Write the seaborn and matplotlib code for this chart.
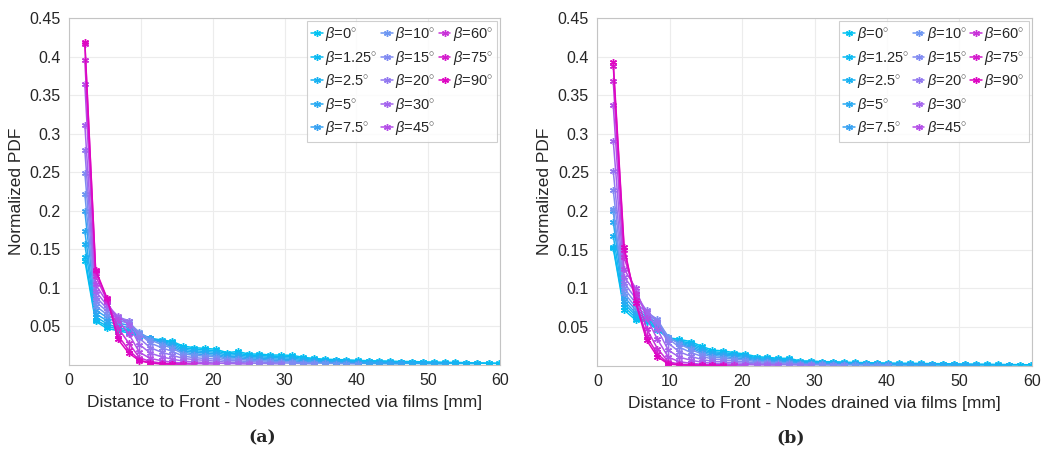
import numpy as np
import pandas as pd
import matplotlib
matplotlib.use("Agg")
import matplotlib.pyplot as plt
from matplotlib.lines import Line2D
import seaborn as sns

# ---------------------------------------------------------------- data
BETAS = ["0", "1.25", "2.5", "5", "7.5", "10", "15", "20", "30", "45", "60", "75", "90"]
COLORS = ["#00c2f2", "#0abaf2", "#18b2f2", "#28aaf2", "#38a2f2", "#6c96f2", "#808af2",
          "#9278f0", "#a464ee", "#b44ee8", "#c832d8", "#d41ccc", "#de06c2"]

# bin centres [mm]
DIST = [2.2, 3.7, 5.3, 6.8, 8.3, 9.8, 11.3, 12.9, 14.4, 15.9, 17.4, 18.9, 20.4,
        22.0, 23.5, 25.0, 26.5, 28.0, 29.5, 31.1, 32.6, 34.1, 35.6, 37.1, 38.6,
        40.2, 41.7, 43.2, 44.7, 46.2, 47.7, 49.3, 50.8, 52.3, 53.8, 55.3, 56.8,
        58.4, 59.9]

# (a) nodes connected via films
a_0 = [0.135, 0.056, 0.047, 0.044, 0.041, 0.036, 0.034, 0.032, 0.030, 0.024, 0.022, 0.021, 0.020,
       0.0155, 0.017, 0.0137, 0.0137, 0.0124, 0.0124, 0.012, 0.0094, 0.008, 0.007, 0.0065, 0.0062,
       0.0055, 0.005, 0.0048, 0.0045, 0.004, 0.004, 0.0035, 0.0033, 0.003, 0.0028, 0.0025, 0.0022,
       0.002, 0.0017]
a_1_25 = [0.140, 0.058, 0.050, 0.046, 0.043, 0.037, 0.034, 0.031, 0.029, 0.022, 0.020, 0.019, 0.018,
          0.014, 0.015, 0.012, 0.012, 0.011, 0.0105, 0.010, 0.008, 0.007, 0.006, 0.0055, 0.0052,
          0.0046, 0.0042, 0.004, 0.0037, 0.0033, 0.0032, 0.0028, 0.0026, 0.0024, 0.0022, 0.002,
          0.0018, 0.0016, 0.0014]
a_2_5 = [0.156, 0.062, 0.053, 0.048, 0.045, 0.038, 0.034, 0.030, 0.027, 0.020, 0.018, 0.017, 0.016,
         0.012, 0.013, 0.0105, 0.0102, 0.0093, 0.0088, 0.0083, 0.0066, 0.0058, 0.005, 0.0045, 0.0042,
         0.0037, 0.0034, 0.0031, 0.0029, 0.0026, 0.0024, 0.0021, 0.0019, 0.0017, 0.0015, 0.0013, 0.0011]
a_5 = [0.173, 0.066, 0.057, 0.051, 0.048, 0.039, 0.034, 0.029, 0.025, 0.018, 0.016, 0.015, 0.014,
       0.010, 0.011, 0.0088, 0.0085, 0.0075, 0.007, 0.0065, 0.0052, 0.0045, 0.0038, 0.0034, 0.0031,
       0.0027, 0.0024, 0.0021, 0.0019, 0.0016, 0.0014, 0.0012, 0.001, 0.0008]
a_7_5 = [0.199, 0.071, 0.061, 0.054, 0.051, 0.041, 0.034, 0.028, 0.023, 0.016, 0.014, 0.013, 0.012,
         0.0085, 0.009, 0.0072, 0.0068, 0.0058, 0.0053, 0.0048, 0.0038, 0.0032, 0.0027, 0.0023, 0.002,
         0.0017, 0.0014, 0.0012, 0.001, 0.0008]
a_10 = [0.221, 0.076, 0.065, 0.057, 0.054, 0.042, 0.032, 0.026, 0.021, 0.014, 0.012, 0.011, 0.010,
        0.007, 0.0072, 0.0056, 0.0052, 0.0043, 0.0038, 0.0033, 0.0026, 0.0021, 0.0017, 0.0014, 0.0011,
        0.0008]
a_15 = [0.249, 0.082, 0.069, 0.060, 0.056, 0.040, 0.028, 0.022, 0.017, 0.011, 0.009, 0.008, 0.0072,
        0.005, 0.005, 0.0038, 0.0034, 0.0027, 0.0022, 0.0018, 0.0013, 0.0009]
a_20 = [0.278, 0.088, 0.073, 0.062, 0.057, 0.034, 0.022, 0.016, 0.012, 0.008, 0.0065, 0.0055, 0.0045,
        0.003, 0.0028, 0.002, 0.0016, 0.0012, 0.0008]
a_30 = [0.311, 0.095, 0.077, 0.063, 0.052, 0.026, 0.015, 0.010, 0.007, 0.0045, 0.0035, 0.0028, 0.002,
        0.0014, 0.0011, 0.0007]
a_45 = [0.364, 0.104, 0.081, 0.058, 0.040, 0.016, 0.008, 0.005, 0.003, 0.002, 0.0014, 0.001, 0.0006]
a_60 = [0.395, 0.115, 0.083, 0.048, 0.028, 0.009, 0.004, 0.002, 0.0012, 0.0008, 0.0005]
a_75 = [0.416, 0.121, 0.085, 0.038, 0.019, 0.006, 0.002, 0.001, 0.0006, 0.0004]
a_90 = [0.419, 0.123, 0.086, 0.033, 0.015, 0.005, 0.002, 0.001, 0.0005]

# (b) nodes drained via films
b_0 = [0.152, 0.072, 0.059, 0.057, 0.046, 0.036, 0.034, 0.031, 0.025, 0.020, 0.019, 0.0167, 0.015,
       0.0115, 0.0107, 0.0094, 0.0094, 0.006, 0.006, 0.005, 0.005, 0.0045, 0.004, 0.0038, 0.0035,
       0.0033, 0.003, 0.003, 0.0028, 0.0025, 0.0025, 0.0022, 0.002, 0.0018, 0.0017, 0.0015, 0.0013,
       0.0012, 0.001]
b_1_25 = [0.154, 0.076, 0.062, 0.058, 0.048, 0.035, 0.032, 0.029, 0.023, 0.018, 0.017, 0.015, 0.0135,
          0.010, 0.0095, 0.0082, 0.008, 0.0052, 0.005, 0.0042, 0.0041, 0.0037, 0.0033, 0.0031, 0.0028,
          0.0026, 0.0024, 0.0023, 0.0021, 0.0019, 0.0018, 0.0016, 0.0014, 0.0013, 0.0012, 0.001,
          0.0009, 0.0008, 0.0007]
b_2_5 = [0.168, 0.080, 0.065, 0.060, 0.050, 0.035, 0.031, 0.027, 0.021, 0.0165, 0.0155, 0.0135, 0.012,
         0.0088, 0.0082, 0.007, 0.0067, 0.0044, 0.0042, 0.0035, 0.0034, 0.003, 0.0027, 0.0025, 0.0022,
         0.002, 0.0018, 0.0017, 0.0015, 0.0013, 0.0012, 0.001, 0.0009, 0.0008, 0.0007, 0.0006, 0.0005]
b_5 = [0.186, 0.084, 0.068, 0.062, 0.052, 0.036, 0.030, 0.025, 0.019, 0.015, 0.0138, 0.012, 0.0105,
       0.0076, 0.007, 0.0058, 0.0055, 0.0036, 0.0034, 0.0028, 0.0026, 0.0023, 0.002, 0.0018, 0.0016,
       0.0014, 0.0012, 0.0011, 0.001, 0.0008, 0.0007, 0.0006, 0.0005, 0.0004]
b_7_5 = [0.200, 0.089, 0.072, 0.064, 0.055, 0.037, 0.029, 0.023, 0.017, 0.013, 0.012, 0.010, 0.0088,
         0.0063, 0.0057, 0.0047, 0.0043, 0.0028, 0.0026, 0.0021, 0.0019, 0.0016, 0.0014, 0.0012, 0.001,
         0.0009, 0.0008, 0.0007, 0.0006, 0.0005]
b_10 = [0.203, 0.094, 0.076, 0.066, 0.058, 0.0375, 0.028, 0.021, 0.015, 0.011, 0.010, 0.0085, 0.0072,
        0.005, 0.0045, 0.0036, 0.0032, 0.002, 0.0018, 0.0014, 0.0012, 0.001, 0.0008, 0.0007, 0.0006,
        0.0005]
b_15 = [0.227, 0.100, 0.081, 0.069, 0.060, 0.035, 0.024, 0.017, 0.012, 0.0085, 0.0075, 0.006, 0.005,
        0.0034, 0.003, 0.0023, 0.002, 0.0013, 0.0011, 0.0008, 0.0007, 0.0005]
b_20 = [0.252, 0.107, 0.087, 0.072, 0.056, 0.029, 0.018, 0.012, 0.008, 0.0055, 0.0047, 0.0037, 0.003,
        0.002, 0.0017, 0.0012, 0.001, 0.0007, 0.0005]
b_30 = [0.291, 0.115, 0.094, 0.070, 0.047, 0.020, 0.011, 0.007, 0.0045, 0.003, 0.0024, 0.0018, 0.0013,
        0.0009, 0.0007, 0.0005]
b_45 = [0.337, 0.125, 0.100, 0.062, 0.034, 0.011, 0.005, 0.003, 0.0018, 0.0012, 0.0009, 0.0006, 0.0004]
b_60 = [0.368, 0.140, 0.093, 0.048, 0.022, 0.005, 0.002, 0.001, 0.0006, 0.0004, 0.0003, 0.0002]
b_75 = [0.388, 0.150, 0.085, 0.038, 0.015, 0.003, 0.0012, 0.0006, 0.0004, 0.0003, 0.0002]
b_90 = [0.393, 0.154, 0.081, 0.033, 0.0115, 0.002, 0.0008, 0.0005, 0.0003, 0.0002, 0.0001]

SERIES_A = [a_0, a_1_25, a_2_5, a_5, a_7_5, a_10, a_15, a_20, a_30, a_45, a_60, a_75, a_90]
SERIES_B = [b_0, b_1_25, b_2_5, b_5, b_7_5, b_10, b_15, b_20, b_30, b_45, b_60, b_75, b_90]

XLABELS = ["Distance to Front - Nodes connected via films [mm]",
           "Distance to Front - Nodes drained via films [mm]"]
CAPTIONS = ["(a)", "(b)"]
XTICKS = [0, 10, 20, 30, 40, 50, 60]
YTICKS = [0.05, 0.1, 0.15, 0.2, 0.25, 0.3, 0.35, 0.4, 0.45]
YTICKLABELS = ["0.05", "0.1", "0.15", "0.2", "0.25", "0.3", "0.35", "0.4", "0.45"]


def to_long(series):
    rows = []
    for beta, vals in zip(BETAS, series):
        for x, v in zip(DIST, vals):
            rows.append({"dist": x, "pdf": v, "beta": beta})
    return pd.DataFrame(rows)


# ---------------------------------------------------------------- style
sns.set_style("white")
plt.rcParams.update({
    "font.family": ["Liberation Sans", "DejaVu Sans"],
    "mathtext.fontset": "custom",
    "mathtext.rm": "Liberation Sans",
    "mathtext.it": "Liberation Sans:italic",
    "text.color": "#262626",
    "axes.labelcolor": "#262626",
    "xtick.color": "#262626",
    "ytick.color": "#262626",
})

fig = plt.figure(figsize=(10.43, 4.51), dpi=100)
axes = [fig.add_axes([0.0662, 0.1916, 0.4132, 0.7685]),
        fig.add_axes([0.5727, 0.1894, 0.4165, 0.7707])]
cap_x = [0.251, 0.758]

for i, (ax, series) in enumerate(zip(axes, [SERIES_A, SERIES_B])):
    df = to_long(series)
    sns.lineplot(data=df, x="dist", y="pdf", hue="beta", hue_order=BETAS,
                 palette=COLORS, estimator=None, sort=True, ax=ax,
                 marker=(6, 2, 0), markersize=5, markeredgewidth=1.0,
                 linestyle="-", linewidth=1.1, legend=False)
    # seaborn gives markers a white edge; asterisks need the line colour
    lines = ax.get_lines()[:len(BETAS)]
    for ln in lines:
        ln.set_markeredgecolor(ln.get_color())

    ax.set_xlim(0, 60)
    ax.set_ylim(0, 0.45)
    ax.set_xticks(XTICKS)
    ax.set_yticks(YTICKS)
    ax.set_yticklabels(YTICKLABELS)
    ax.tick_params(labelsize=11.5, direction="in", length=2.5, color="#c0c0c0", pad=6)
    ax.grid(True, color="#ececec", linewidth=0.8)
    ax.set_axisbelow(True)
    for sp in ax.spines.values():
        sp.set_visible(True)
        sp.set_color("#c4c4c4")
        sp.set_linewidth(0.8)
    ax.set_xlabel(XLABELS[i], fontsize=12.5, labelpad=5)
    ax.set_ylabel("Normalized PDF", fontsize=12.5, labelpad=4)

    # 5 / 5 / 3 column layout as in the original legend
    blank = Line2D([], [], linestyle="none", marker="none")
    handles = list(lines) + [blank, blank]
    labels = [r"$\beta$=" + b + r"$^{\circ}$" for b in BETAS] + ["", ""]
    leg = ax.legend(handles, labels, ncol=3, loc="upper right", fontsize=10.5,
                    handlelength=0.8, handletextpad=0.15, columnspacing=0.25,
                    labelspacing=0.38, borderpad=0.3, borderaxespad=0.2,
                    frameon=True, fancybox=False, edgecolor="#c4c4c4")
    leg.get_frame().set_linewidth(0.8)

    fig.text(cap_x[i], 0.028, CAPTIONS[i], ha="center", va="center",
             fontsize=12.5, fontweight="bold", family="DejaVu Serif")

fig.savefig("out.png", dpi=100)
